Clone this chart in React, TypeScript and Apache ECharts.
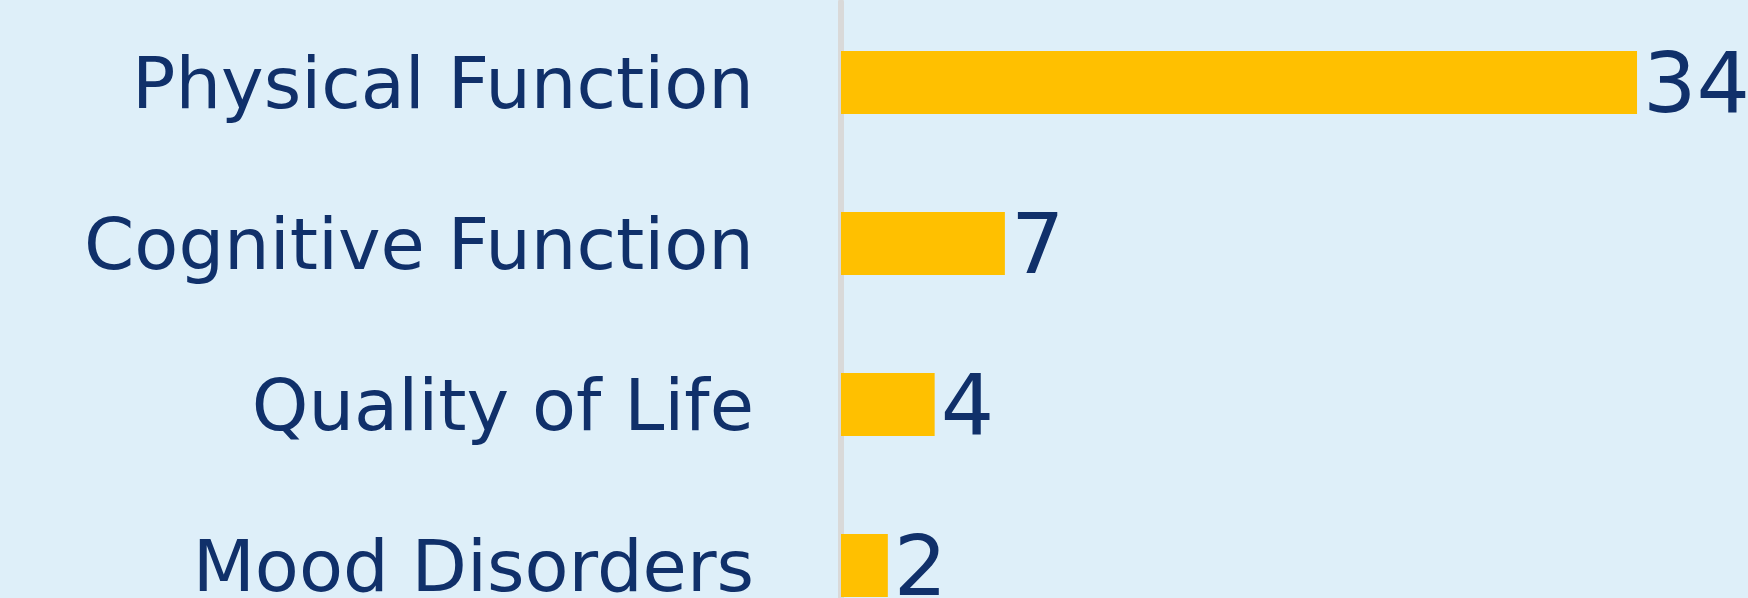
import React, { useEffect, useRef } from "react";
import * as echarts from "echarts";

const categories = ["Physical Function", "Cognitive Function", "Quality of Life", "Mood Disorders"];
const values = [34, 7, 4, 2];

export default function App() {
  const ref = useRef<HTMLDivElement>(null);
  useEffect(() => {
    document.body.style.margin = "0";
    document.body.style.background = "#DEEFF9";
    const chart = echarts.init(ref.current!, null, { renderer: "svg" });
    chart.setOption({
      animation: false,
      backgroundColor: "#DEEFF9",
      grid: { left: 841, top: 2, width: 907, height: 644 },
      xAxis: {
        type: "value",
        min: 0,
        max: 38.74,
        show: false,
      },
      yAxis: {
        type: "category",
        data: categories,
        inverse: true,
        offset: 3,
        axisLine: { show: true, lineStyle: { color: "#D9D9D9", width: 6 } },
        axisTick: { show: false },
        axisLabel: {
          fontFamily: "DejaVu Sans",
          fontSize: 72,
          color: "#10306A",
          margin: 84,
        },
      },
      series: [
        {
          type: "bar",
          data: values,
          barWidth: 63,
          itemStyle: { color: "#FFC000" },
          label: {
            show: true,
            position: "right",
            distance: 6,
            fontFamily: "DejaVu Sans",
            fontSize: 84,
            color: "#10306A",
          },
        },
      ],
    });
    return () => chart.dispose();
  }, []);
  return (
    <div
      ref={ref}
      style={{ position: "absolute", left: 0, top: 0, width: 1748, height: 700 }}
    />
  );
}
